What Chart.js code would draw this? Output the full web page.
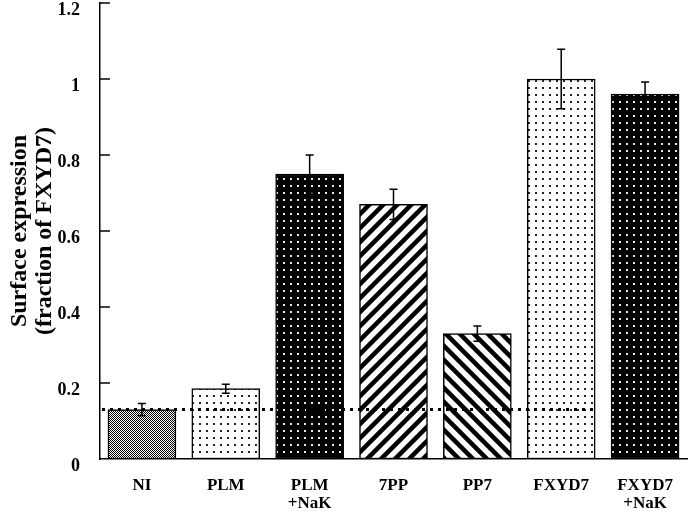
<!DOCTYPE html>
<html>
<head>
<meta charset="utf-8">
<script src="https://cdn.jsdelivr.net/npm/chart.js@4.4.0/dist/chart.umd.min.js"></script>
<style>
  html, body { margin: 0; padding: 0; background: #fff; }
  #wrap { width: 693px; height: 514px; }
</style>
</head>
<body>
<div id="wrap"><canvas id="chart" width="693" height="514"></canvas></div>
<script>
// values
const categories = [['NI'], ['PLM'], ['PLM', '+NaK'], ['7PP'], ['PP7'], ['FXYD7'], ['FXYD7', '+NaK']];
const surfaceExpression = [0.13, 0.185, 0.75, 0.67, 0.33, 1.0, 0.96];
const errorValues = [0.016, 0.012, 0.05, 0.04, 0.02, 0.078, 0.032];
const niLevel = 0.13;
const yTicks = [0, 0.2, 0.4, 0.6, 0.8, 1, 1.2];
const yTitle = ['Surface expression', '(fraction of FXYD7)'];

const serif = "'Liberation Serif', 'Times New Roman', serif";

// small canvas tiles used as bar fills
function tile(w, h, paint) {
    const c = document.createElement('canvas');
    c.width = w;
    c.height = h;
    const g = c.getContext('2d');
    paint(g, w, h);
    return g.createPattern(c, 'repeat');
}

const checker = tile(2, 2, (g) => {
    g.fillStyle = '#fff';
    g.fillRect(0, 0, 2, 2);
    g.fillStyle = '#000';
    g.fillRect(0, 0, 1, 1);
    g.fillRect(1, 1, 1, 1);
});

const whiteDots = tile(7, 7, (g) => {
    g.fillStyle = '#fff';
    g.fillRect(0, 0, 7, 7);
    g.fillStyle = '#222';
    g.fillRect(3, 3, 2, 2);
});

const blackDots = tile(7, 7, (g) => {
    g.fillStyle = '#000';
    g.fillRect(0, 0, 7, 7);
    g.fillStyle = '#e8e8e8';
    g.fillRect(3, 3, 2, 2);
});

function stripes(up) {
    return tile(14, 14, (g, w, h) => {
        g.fillStyle = '#fff';
        g.fillRect(0, 0, w, h);
        g.strokeStyle = '#000';
        g.lineWidth = 4.5;
        if (!up) {
            g.translate(w, 0);
            g.scale(-1, 1);
        }
        g.beginPath();
        g.moveTo(0, h); g.lineTo(w, 0);
        g.moveTo(-w / 2, h / 2); g.lineTo(w / 2, -h / 2);
        g.moveTo(w / 2, h * 1.5); g.lineTo(w * 1.5, h / 2);
        g.stroke();
    });
}

const fills = [checker, whiteDots, blackDots, stripes(true), stripes(false), whiteDots, blackDots];

// error bars, inward y ticks and the dotted NI level
const decorations = {
    id: 'decorations',
    afterDraw(chart) {
        const ctx = chart.ctx;
        const area = chart.chartArea;
        const y = chart.scales.y;
        const bars = chart.getDatasetMeta(0).data;
        ctx.save();
        ctx.strokeStyle = '#000';
        ctx.lineWidth = 1.5;

        bars.forEach((bar, i) => {
            const v = surfaceExpression[i];
            const e = errorValues[i];
            const top = y.getPixelForValue(v + e);
            const bot = y.getPixelForValue(v - e);
            ctx.beginPath();
            ctx.moveTo(bar.x, top); ctx.lineTo(bar.x, bot);
            ctx.moveTo(bar.x - 4, top); ctx.lineTo(bar.x + 4, top);
            ctx.moveTo(bar.x - 4, bot); ctx.lineTo(bar.x + 4, bot);
            ctx.stroke();
        });

        // tick marks on the inner side of the y axis
        const axisX = y.right;
        yTicks.forEach((v) => {
            if (v <= 0) return;
            const py = y.getPixelForValue(v);
            ctx.beginPath();
            ctx.moveTo(axisX, py);
            ctx.lineTo(axisX + 10, py);
            ctx.stroke();
        });

        const endIdx = categories.findIndex(c => c.length === 1 && c[0] === 'FXYD7');
        const end = bars[endIdx];
        const py = y.getPixelForValue(niLevel);
        ctx.setLineDash([3, 5]);
        ctx.lineWidth = 3;
        ctx.beginPath();
        ctx.moveTo(area.left + 2, py);
        ctx.lineTo(end.x + end.width / 2, py);
        ctx.stroke();
        ctx.restore();
    }
};

new Chart(document.getElementById('chart'), {
    type: 'bar',
    data: {
        labels: categories,
        datasets: [{
            data: surfaceExpression,
            backgroundColor: fills,
            borderColor: '#000',
            borderWidth: 1.5,
            borderSkipped: false,
            barThickness: 68
        }]
    },
    options: {
        responsive: false,
        animation: false,
        devicePixelRatio: 1,
        layout: { padding: { top: 3, right: 6, left: 0, bottom: 0 } },
        plugins: {
            legend: { display: false },
            tooltip: { enabled: false }
        },
        scales: {
            x: {
                grid: { display: false },
                border: { display: true, color: '#000', width: 1.5 },
                ticks: {
                    color: '#000',
                    padding: 9,
                    maxRotation: 0,
                    autoSkip: false,
                    font: { family: serif, size: 17, weight: 'bold', lineHeight: 1.1 }
                },
                afterFit: (s) => { s.height = 55; }
            },
            y: {
                min: 0,
                max: 1.2,
                grid: { display: false },
                border: { display: true, color: '#000', width: 1.5 },
                afterBuildTicks: (s) => { s.ticks = yTicks.map(v => ({ value: v })); },
                ticks: {
                    color: '#000',
                    padding: 12,
                    labelOffset: 7,
                    callback: (v) => String(v),
                    font: { family: serif, size: 18, weight: 'bold' }
                },
                title: {
                    display: true,
                    text: yTitle,
                    color: '#000',
                    padding: { top: 7, bottom: 0 },
                    font: { family: serif, size: 24, weight: 'bold', lineHeight: 1.05 }
                },
                afterFit: (s) => {
                    s.width = 100;
                    s.paddingTop = 0;
                    s.paddingBottom = 0;
                }
            }
        }
    },
    plugins: [decorations]
});
</script>
</body>
</html>
